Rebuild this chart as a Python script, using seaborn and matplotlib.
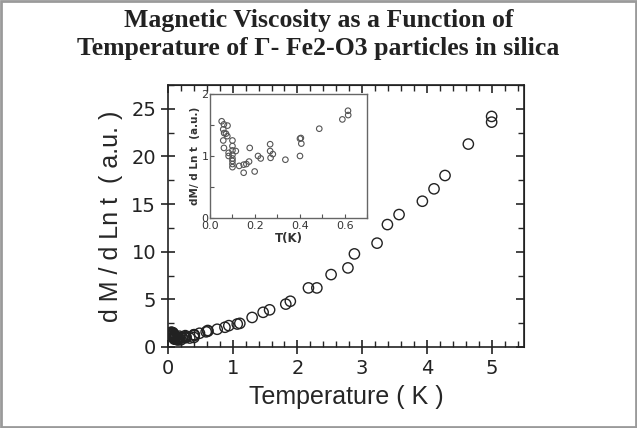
import numpy as np
import pandas as pd
import matplotlib
matplotlib.use("Agg")
import matplotlib.pyplot as plt
from matplotlib.ticker import MultipleLocator
from matplotlib.patches import Rectangle
import seaborn as sns

# low temperature points (shown in the inset and in the main panel)
t_low = [0.052, 0.062, 0.078, 0.059, 0.063, 0.071, 0.077, 0.059, 0.100, 0.062,
         0.100, 0.177, 0.083, 0.100, 0.115, 0.083, 0.100, 0.100, 0.100, 0.100,
         0.100, 0.130, 0.150, 0.162, 0.174, 0.150, 0.199, 0.214, 0.226, 0.268,
         0.268, 0.280, 0.270, 0.336, 0.401, 0.405, 0.401, 0.407, 0.487, 0.590,
         0.615, 0.616]
v_low = [1.56, 1.51, 1.49, 1.43, 1.37, 1.36, 1.32, 1.25, 1.25, 1.13,
         1.16, 1.13, 1.05, 1.09, 1.08, 1.00, 1.02, 0.96, 0.92, 0.87,
         0.82, 0.84, 0.86, 0.87, 0.91, 0.73, 0.75, 1.00, 0.96, 1.19,
         1.08, 1.03, 0.97, 0.94, 1.00, 1.29, 1.28, 1.20, 1.44, 1.59,
         1.73, 1.66]

# higher temperature points (main panel only)
t_high = [0.76, 0.88, 0.94, 1.07, 1.11, 1.30, 1.47, 1.57, 1.82, 1.89,
          2.17, 2.30, 2.52, 2.78, 2.88, 3.23, 3.39, 3.57, 3.93, 4.11,
          4.28, 4.64, 5.00, 5.00]
v_high = [1.86, 2.07, 2.24, 2.41, 2.48, 3.10, 3.64, 3.90, 4.50, 4.80,
          6.20, 6.20, 7.60, 8.30, 9.77, 10.90, 12.85, 13.90, 15.30, 16.60,
          18.00, 21.30, 23.60, 24.20]

low = pd.DataFrame({"T": t_low, "v": v_low})
main = pd.DataFrame({"T": t_low + t_high, "v": v_low + v_high})

sns.set_style("ticks")
fig = plt.figure(figsize=(6.37, 4.28), dpi=100)
fig.patch.set_facecolor("white")
fig.patches.append(Rectangle((0.002, 0.003), 0.996, 0.994, transform=fig.transFigure,
                             fill=False, edgecolor="#9a9a9a", linewidth=2))

fig.text(0.5, 0.952, "Magnetic Viscosity as a Function of", ha="center", va="center",
         fontsize=18.5, fontweight="bold", family="Liberation Serif", color="#222222")
fig.text(0.5, 0.887, "Temperature of \u0393- Fe2-O3 particles in silica", ha="center",
         va="center", fontsize=18.5, fontweight="bold", family="Liberation Serif",
         color="#222222")

ax = fig.add_axes([0.2637, 0.1893, 0.5589, 0.6121])
sns.scatterplot(data=main, x="T", y="v", ax=ax, marker="o", s=55,
                facecolor="none", edgecolor="#222222", linewidth=1.0)
ax.set_xlim(0, 5.5)
ax.set_ylim(0, 27.5)
ax.xaxis.set_major_locator(MultipleLocator(1))
ax.xaxis.set_minor_locator(MultipleLocator(0.2))
ax.yaxis.set_major_locator(MultipleLocator(5))
ax.yaxis.set_minor_locator(MultipleLocator(2.5))
ax.tick_params(which="major", direction="inout", length=10, width=1.2, labelsize=14,
               colors="#222222")
ax.tick_params(which="minor", direction="in", length=4, width=1)
for s in ax.spines.values():
    s.set_linewidth(1.2)
    s.set_color("#222222")
ax.set_xlabel("Temperature ( K )", fontsize=18, family="Liberation Sans", labelpad=5)
ax.set_ylabel("d M / d Ln t  ( a.u. )", fontsize=18, family="Liberation Sans", labelpad=6)

top = ax.secondary_xaxis("top")
top.xaxis.set_major_locator(MultipleLocator(1))
top.xaxis.set_minor_locator(MultipleLocator(0.2))
top.tick_params(which="major", direction="in", length=6, width=1.2, labeltop=False)
top.tick_params(which="minor", direction="in", length=4, width=1)
right = ax.secondary_yaxis("right")
right.yaxis.set_major_locator(MultipleLocator(5))
right.yaxis.set_minor_locator(MultipleLocator(2.5))
right.tick_params(which="major", direction="in", length=6, width=1.2, labelright=False)
right.tick_params(which="minor", direction="in", length=4, width=1)

# inset
ins = fig.add_axes([0.3297, 0.4907, 0.2465, 0.2897])
sns.scatterplot(data=low, x="T", y="v", ax=ins, marker="o", s=16,
                facecolor="none", edgecolor="#555555", linewidth=0.8)
ins.set_xlim(0, 0.7)
ins.set_ylim(0, 2)
ins.xaxis.set_major_locator(MultipleLocator(0.2))
ins.xaxis.set_minor_locator(MultipleLocator(0.1))
ins.yaxis.set_major_locator(MultipleLocator(1))
ins.yaxis.set_minor_locator(MultipleLocator(0.5))
ins.tick_params(which="both", direction="in", length=3, width=0.8, labelsize=8,
                colors="#555555", pad=1)
ins.tick_params(labelcolor="#333333")
ins.tick_params(axis="x", pad=2)
for s in ins.spines.values():
    s.set_linewidth(1.0)
    s.set_color("#666666")
ins.set_xlabel("T(K)", fontsize=8.5, fontweight="bold", labelpad=1, color="#333333")
ins.set_ylabel("dM/ d Ln t  (a.u.)", fontsize=7.5, fontweight="bold", labelpad=1,
               color="#333333")

fig.savefig("out.png", dpi=100)
